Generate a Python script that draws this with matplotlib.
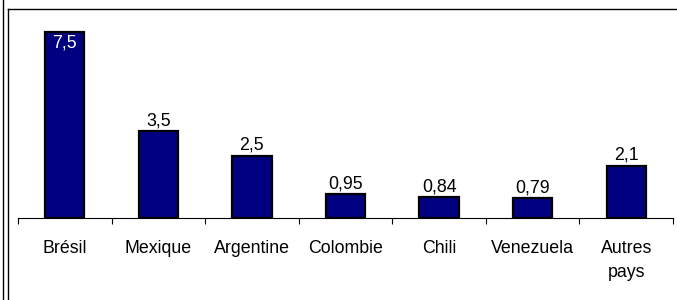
import matplotlib.pyplot as plt
from matplotlib.lines import Line2D

# Data
pays = ['Brésil', 'Mexique', 'Argentine', 'Colombie', 'Chili', 'Venezuela', 'Autres\npays']
valeurs = [7.5, 3.5, 2.5, 0.95, 0.84, 0.79, 2.1]
etiquettes = ['7,5', '3,5', '2,5', '0,95', '0,84', '0,79', '2,1']

plt.rcParams['font.family'] = 'Liberation Sans'
fs = 12.8

W, H = 677, 300
fig = plt.figure(figsize=(W / 100, H / 100), dpi=100)
ax = fig.add_axes([18 / W, (H - 218) / H, (673 - 18) / W, (218 - 9) / H])

x = range(len(pays))
bars = ax.bar(x, valeurs, width=0.42, color='#000080', edgecolor='black', linewidth=1.6)

for i, (b, v, t) in enumerate(zip(bars, valeurs, etiquettes)):
    if i == 0:
        ax.annotate(t, (b.get_x() + b.get_width() / 2, v), xytext=(0, -1.5),
                    textcoords='offset points', ha='center', va='top',
                    color='white', fontsize=fs)
    else:
        ax.annotate(t, (b.get_x() + b.get_width() / 2, v), xytext=(0, 1.5),
                    textcoords='offset points', ha='center', va='bottom',
                    color='black', fontsize=fs)

ax.set_xlim(-0.5, len(pays) - 0.5)
ax.set_ylim(0, 209 / 24.8)

ax.set_xticks(list(x))
ax.set_xticklabels(pays, fontsize=fs, linespacing=1.5)
ax.set_xticks([i - 0.5 for i in range(len(pays) + 1)], minor=True)
ax.tick_params(axis='x', which='major', length=0, pad=16)
ax.tick_params(axis='x', which='minor', length=4, width=0.8, direction='out')
ax.set_yticks([])
for s in ['top', 'right', 'left']:
    ax.spines[s].set_visible(False)
ax.spines['bottom'].set_linewidth(0.8)

# frame lines around chart
fig.add_artist(Line2D([2.5 / W, 2.5 / W], [0, 1], color='black', lw=1))
fig.add_artist(Line2D([7.5 / W, 7.5 / W], [0, (H - 9) / H], color='black', lw=1))
fig.add_artist(Line2D([7.5 / W, 1], [(H - 9) / H, (H - 9) / H], color='black', lw=1))

fig.savefig('out.png', dpi=100)
